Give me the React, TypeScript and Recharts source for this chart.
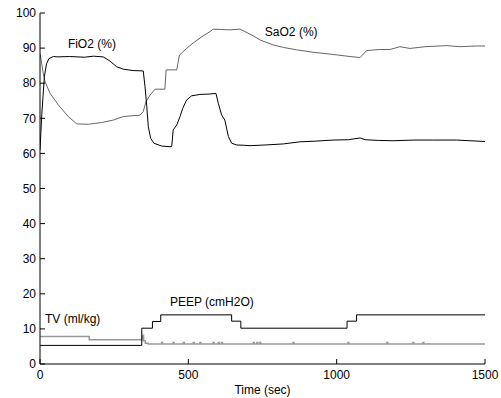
import React from 'react';
import { LineChart, Line, XAxis, YAxis, ReferenceDot } from 'recharts';

// FiO2 (%) - dark trace
const fio2Time = [0, 3, 6, 10, 15, 22, 30, 45, 60, 100, 150, 180, 213, 236, 258, 281, 314, 348, 354, 360, 365, 373, 384, 410, 438, 444, 449, 461, 472, 481, 494, 511, 539, 570, 593, 601, 612, 623, 635, 646, 663, 690, 708, 760, 820, 876, 930, 988, 1040, 1079, 1096, 1140, 1191, 1260, 1326, 1404, 1450, 1500];
const fio2Values = [61, 66, 71, 76, 82, 85.5, 87, 87.6, 87.5, 87.6, 87.4, 87.7, 87.5, 86.3, 84.7, 84, 83.6, 83.5, 79, 73.3, 67.6, 64.3, 62.9, 62.1, 61.9, 62, 66.7, 68.1, 70.5, 72.8, 75.2, 76.4, 76.8, 76.9, 77.1, 74.3, 71, 69.5, 64.8, 62.9, 62.4, 62.3, 62.2, 62.4, 62.7, 63.3, 63.5, 63.8, 63.9, 64.4, 63.9, 63.7, 63.6, 63.8, 63.8, 63.8, 63.6, 63.4];

// SaO2 (%) - gray trace
const sao2Time = [0, 11, 17, 34, 62, 95, 124, 163, 208, 247, 281, 337, 348, 357, 371, 388, 421, 425, 461, 470, 494, 517, 545, 573, 584, 610, 640, 674, 691, 719, 742, 786, 820, 865, 921, 977, 1045, 1079, 1101, 1146, 1180, 1213, 1247, 1298, 1371, 1416, 1472, 1500];
const sao2Values = [88.5, 82.8, 80.4, 77.1, 73.8, 70.5, 68.4, 68.3, 68.8, 69.5, 70.5, 70.9, 71.9, 74.7, 76.6, 78.3, 78.3, 83.8, 83.8, 88, 89.9, 91.5, 93.2, 94.7, 95.4, 95.3, 95.2, 95.4, 94.7, 93.5, 92.3, 90.9, 90.2, 89.5, 88.8, 88.3, 87.6, 87.3, 89.3, 89.6, 89.6, 90.4, 89.9, 90.4, 90.7, 90.4, 90.6, 90.6];

// PEEP (cmH2O) - step trace
const peepTime = [0, 343, 379, 407, 646, 677, 1035, 1067, 1500];
const peepValues = [5.3, 10.2, 12.1, 14, 12.2, 10.2, 12.2, 14, 14];

// TV (ml/kg) - step trace with small blips
const tvTime = [0, 166, 345, 349, 355, 365, 410, 413, 449, 452, 483, 486, 517, 520, 539, 542, 584, 587, 601, 604, 612, 615, 719, 722, 731, 734, 741, 744, 853, 856, 1038, 1041, 1169, 1172, 1257, 1260, 1291, 1294, 1500];
const tvValues = [7.8, 6.9, 8.2, 6.6, 5.9, 5.7, 6.1, 5.7, 6.1, 5.7, 6.1, 5.7, 6.1, 5.7, 6.1, 5.7, 6.1, 5.7, 6.1, 5.7, 6.1, 5.7, 6.1, 5.7, 6.1, 5.7, 6.1, 5.7, 6.1, 5.7, 6.1, 5.7, 6.1, 5.7, 6.1, 5.7, 6.1, 5.7, 5.7];

const xTicks = [0, 500, 1000, 1500];
const yTicks = [0, 10, 20, 30, 40, 50, 60, 70, 80, 90, 100];

const toData = (ts: number[], vs: number[]) => ts.map((t, i) => ({ t, v: vs[i] }));

const fio2Data = toData(fio2Time, fio2Values);
const sao2Data = toData(sao2Time, sao2Values);
const peepData = toData(peepTime, peepValues);
const tvData = toData(tvTime, tvValues);

const font = '"Liberation Sans", Arial, sans-serif';
const tickStyle = { fill: '#000', fontSize: 12, fontFamily: font };
const lbl = (value: string) => ({ value, position: 'right' as const, offset: 0, fill: '#000', fontSize: 12, fontFamily: font });

export default function App() {
  return (
    <div style={{ position: 'absolute', left: 0, top: 0, width: 501, height: 398, background: '#fff' }}>
      <LineChart width={501} height={398} margin={{ top: 13, right: 16, bottom: 0, left: 0 }}>
        <XAxis
          dataKey="t"
          type="number"
          domain={[0, 1500]}
          ticks={xTicks}
          height={34}
          tickSize={-5}
          tickMargin={11}
          tick={tickStyle}
          stroke="#000"
          allowDataOverflow
          label={{ value: 'Time (sec)', position: 'insideBottom', offset: 4, fill: '#000', fontSize: 12, fontFamily: font }}
        />
        <XAxis
          xAxisId="top"
          orientation="top"
          type="number"
          domain={[0, 1500]}
          ticks={xTicks}
          height={0}
          tickSize={-5}
          tickFormatter={() => ''}
          stroke="#000"
        />
        <YAxis
          type="number"
          domain={[0, 100]}
          ticks={yTicks}
          width={40}
          tickSize={-5}
          tickMargin={9}
          tick={tickStyle}
          stroke="#000"
          allowDataOverflow
        />
        <YAxis
          yAxisId="right"
          orientation="right"
          type="number"
          domain={[0, 100]}
          ticks={yTicks}
          width={0}
          tickSize={-5}
          tickFormatter={() => ''}
          stroke="#000"
        />
        <Line data={sao2Data} dataKey="v" type="linear" stroke="#666" strokeWidth={1} dot={false} isAnimationActive={false} />
        <Line data={fio2Data} dataKey="v" type="linear" stroke="#000" strokeWidth={1} dot={false} isAnimationActive={false} />
        <Line data={tvData} dataKey="v" type="stepAfter" stroke="#999" strokeWidth={1.5} dot={false} isAnimationActive={false} />
        <Line data={peepData} dataKey="v" type="stepAfter" stroke="#000" strokeWidth={1} dot={false} isAnimationActive={false} />
        <ReferenceDot x={94} y={91.2} r={0} fill="none" stroke="none" label={lbl('FiO2 (%)')} />
        <ReferenceDot x={758} y={94.6} r={0} fill="none" stroke="none" label={lbl('SaO2 (%)')} />
        <ReferenceDot x={438} y={17.7} r={0} fill="none" stroke="none" label={lbl('PEEP (cmH2O)')} />
        <ReferenceDot x={17} y={12.8} r={0} fill="none" stroke="none" label={lbl('TV (ml/kg)')} />
      </LineChart>
    </div>
  );
}
